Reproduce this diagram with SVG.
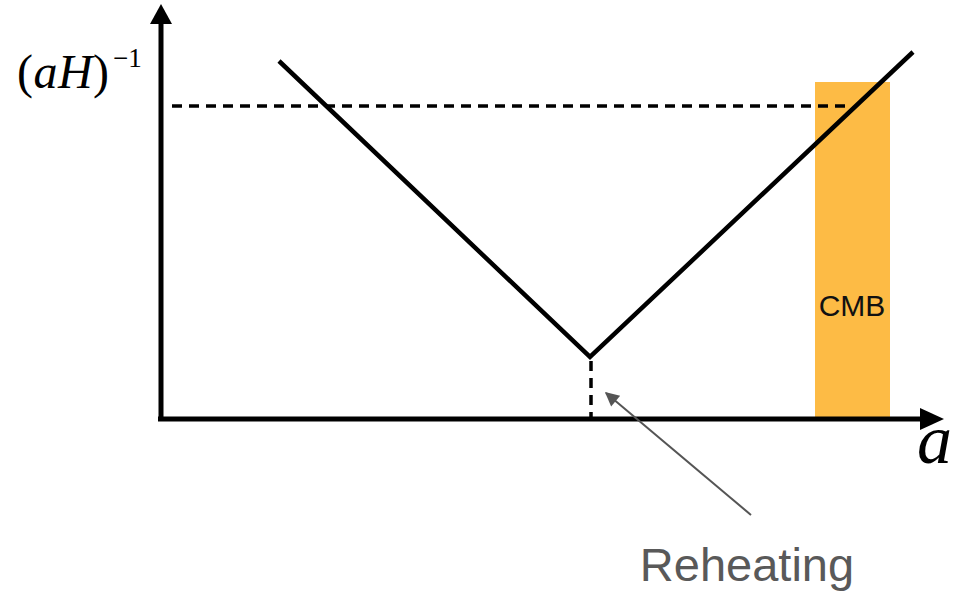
<svg xmlns="http://www.w3.org/2000/svg" width="959" height="591" viewBox="0 0 959 591">
<style>
.ax{stroke:#000;stroke-width:5;fill:none}
.curve{stroke:#000;stroke-width:4.5;fill:none;stroke-linecap:butt}
.dash{stroke:#000;stroke-width:3.5;fill:none;stroke-dasharray:10 7}
.math{font-family:"Liberation Serif","DejaVu Serif",serif;fill:#000}
.it{font-style:italic}
.sans{font-family:"Liberation Sans",Arial,sans-serif}
</style>
<defs>
<marker id="gh" viewBox="0 0 10 10" refX="9" refY="5" markerWidth="18" markerHeight="14" orient="auto" markerUnits="userSpaceOnUse">
<path d="M0,0 L10,5 L0,10 z" fill="#555"/>
</marker>
</defs>
<rect width="959" height="591" fill="#fff"/>
<g id="cmb">
<rect x="815" y="82" width="75" height="337" fill="#FDBB45"/>
<text x="852" y="316" class="sans" font-size="30" text-anchor="middle" fill="#111">CMB</text>
</g>
<g id="axes">
<line class="ax" x1="161" y1="421" x2="161" y2="20"/>
<polygon points="150,24 172,24 161,4" fill="#000"/>
<line class="ax" x1="158" y1="419" x2="924" y2="419"/>
<polygon points="920,408 920,430 944,419" fill="#000"/>
<text x="17" y="88" class="math" font-size="48" textLength="92">(<tspan class="it">aH</tspan>)</text>
<text x="113" y="67" class="math" font-size="27">−1</text>
<text x="917" y="463" class="math it" font-size="70">a</text>
</g>
<g id="connectors">
<line class="dash" x1="172" y1="106" x2="850" y2="106"/>
<polyline class="curve" points="279,61 590,357 913,52"/>
<line class="dash" x1="591" y1="361" x2="591" y2="421" stroke-dasharray="9 6"/>
<line x1="751" y1="515" x2="606" y2="393" stroke="#555" stroke-width="2" marker-end="url(#gh)"/>
</g>
<g id="reheating">
<text x="747" y="581" class="sans" font-size="47" text-anchor="middle" fill="#595959">Reheating</text>
</g>
</svg>
